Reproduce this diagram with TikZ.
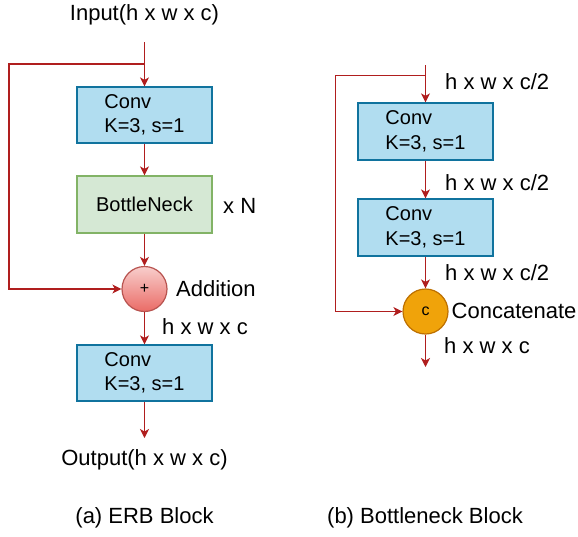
\documentclass[tikz,border=0pt]{standalone}
\usepackage{fontspec}
\setmainfont{Liberation Sans}
\usetikzlibrary{arrows.meta}
\definecolor{ln}{HTML}{B01E1E}
\definecolor{convfill}{HTML}{B1DDF0}
\definecolor{convdraw}{HTML}{10739E}
\definecolor{bnfill}{HTML}{D5E8D4}
\definecolor{bndraw}{HTML}{82B366}
\definecolor{addtop}{HTML}{F8CECC}
\definecolor{addbot}{HTML}{EA6B66}
\definecolor{adddraw}{HTML}{B85450}
\definecolor{catfill}{HTML}{F0A30A}
\definecolor{catdraw}{HTML}{BD7000}
\tikzset{
  blockbox/.style={minimum width=135pt, minimum height=56pt, line width=1.2pt,
    font=\fontsize{20}{24.5}\selectfont, align=left, inner sep=0pt},
  convbox/.style={blockbox, draw=convdraw, fill=convfill},
  bnbox/.style={blockbox, draw=bndraw, fill=bnfill, minimum height=57pt},
  opcircle/.style={circle, minimum size=45pt, inner sep=0pt, line width=1.2pt,
    font=\fontsize{16}{18}\selectfont},
  addcircle/.style={opcircle, draw=adddraw, top color=addtop, bottom color=addbot},
  catcircle/.style={opcircle, draw=catdraw, fill=catfill},
  lbl/.style={inner sep=0pt, font=\fontsize{22}{26}\selectfont},
  conn/.style={draw=ln, line width=1.3pt},
  arr/.style={conn, -{Stealth[length=9pt,width=9pt,inset=2.5pt]}}
}
\begin{document}
\begin{tikzpicture}[x=1pt,y=-1pt]
\useasboundingbox (0,0) rectangle (578,536);
% ---------- (a) ERB Block ----------
\node[lbl] (in) at (144.5,15) {Input(h x w x c)};
\coordinate (inS) at (144.5,42);
\coordinate (br1) at (144.5,64);
\coordinate (lx) at (9,64);
\node[convbox] (conv1) at (144.5,115) {Conv\\K=3, s=1};
\node[bnbox] (bn) at (144.5,204.5) {BottleNeck};
\node[lbl, anchor=west] (xn) at (223,206) {x N};
\node[addcircle] (add) at (144.5,289) {+};
\node[lbl, anchor=west] (addl) at (176,289) {Addition};
\node[lbl, anchor=west] (hwc1) at (162,327) {h x w x c};
\node[convbox] (conv2) at (144.5,373) {Conv\\K=3, s=1};
\coordinate (outE) at (144.5,438);
\node[lbl] (out) at (144.5,460) {Output(h x w x c)};
\node[lbl] (capa) at (144.5,518) {(a) ERB Block};

\draw[arr] (inS) -- (conv1.north);
\draw[arr] (br1) -- (lx) |- (add.west);
\draw[arr] (conv1.south) -- (bn.north);
\draw[arr] (bn.south) -- (add.north);
\draw[arr] (add.south) -- (conv2.north);
\draw[arr] (conv2.south) -- (outE);

% ---------- (b) Bottleneck Block ----------
\coordinate (rS) at (425.5,65);
\coordinate (rbr) at (425.5,75.7);
\coordinate (rlx) at (335.3,75.7);
\node[lbl, anchor=west] (c2a) at (445,82) {h x w x c/2};
\node[convbox, minimum height=57pt] (cb1) at (425.5,131.5) {Conv\\K=3, s=1};
\node[lbl, anchor=west] (c2b) at (445,182.7) {h x w x c/2};
\node[convbox, minimum height=57pt] (cb2) at (425.5,227.5) {Conv\\K=3, s=1};
\node[lbl, anchor=west] (c2c) at (445,272.7) {h x w x c/2};
\node[catcircle] (cat) at (425.5,311.5) {c};
\node[lbl, anchor=west] (catl) at (451.5,311) {Concatenate};
\node[lbl, anchor=west] (hwc2) at (444,346) {h x w x c};
\coordinate (rE) at (425.5,367);
\node[lbl] (capb) at (425,518) {(b) Bottleneck Block};

\draw[arr] (rS) -- (cb1.north);
\draw[arr] (rbr) -- (rlx) |- (cat.west);
\draw[arr] (cb1.south) -- (cb2.north);
\draw[arr] (cb2.south) -- (cat.north);
\draw[arr] (cat.south) -- (rE);
\end{tikzpicture}
\end{document}
